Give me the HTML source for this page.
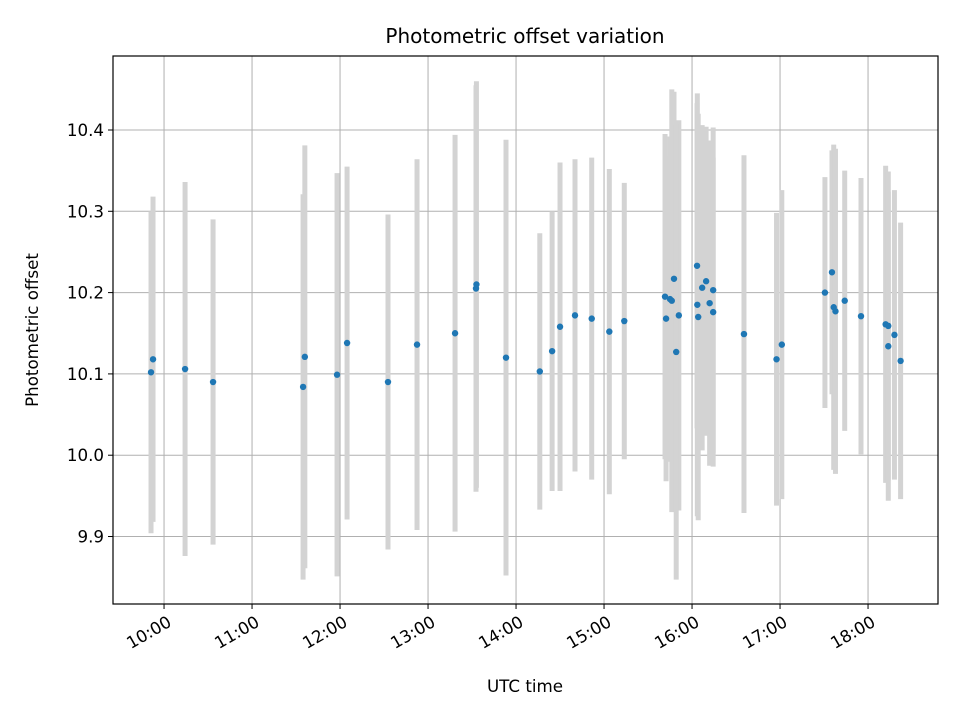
<!DOCTYPE html>
<html><head><meta charset="utf-8"><style>
body{margin:0;background:#fff;}
svg text{font-family:"DejaVu Sans","Liberation Sans",sans-serif;fill:#000;}
</style></head><body>
<svg id="chart" width="960" height="720" xmlns="http://www.w3.org/2000/svg">
<rect width="960" height="720" fill="#fff"/>
<text x="525" y="43" font-size="20" text-anchor="middle">Photometric offset variation</text>
<g id="grid"></g><g id="bars"></g><g id="pts"></g>
<rect x="113" y="56" width="825" height="548" fill="none" stroke="#000" stroke-width="1.2"/>
<g id="axes"></g>
<text x="525" y="692" font-size="16.7" text-anchor="middle">UTC time</text>
<text transform="translate(38,330) rotate(-90)" font-size="16.7" text-anchor="middle">Photometric offset</text>
</svg>
<script>
const times=[9.852,9.875,10.239,10.557,11.58,11.60,11.966,12.08,12.545,12.875,13.307,13.545,13.55,13.886,14.27,14.41,14.5,14.67,14.86,15.06,15.23,
15.693,15.705,15.75,15.77,15.795,15.85,15.82,16.057,16.06,16.07,16.115,16.16,16.2,16.24,16.24,16.59,16.96,17.02,
17.51,17.59,17.61,17.63,17.735,17.92,18.2,18.23,18.23,18.3,18.37];
const values=[10.102,10.118,10.106,10.09,10.084,10.121,10.099,10.138,10.09,10.136,10.15,10.205,10.21,10.12,10.103,10.128,10.158,10.172,10.168,10.152,10.165,
10.195,10.168,10.192,10.19,10.217,10.172,10.127,10.233,10.185,10.17,10.206,10.214,10.187,10.203,10.176,10.149,10.118,10.136,
10.2,10.225,10.182,10.177,10.19,10.171,10.161,10.159,10.134,10.148,10.116];
const errors=[0.198,0.2,0.23,0.2,0.237,0.26,0.248,0.217,0.206,0.228,0.244,0.25,0.25,0.268,0.17,0.172,0.202,0.192,0.198,0.2,0.17,
0.2,0.2,0.2,0.26,0.23,0.24,0.28,0.2,0.26,0.25,0.2,0.19,0.2,0.2,0.19,0.22,0.18,0.19,
0.142,0.15,0.2,0.2,0.16,0.17,0.195,0.19,0.19,0.178,0.17];
const xTicks=[10,11,12,13,14,15,16,17,18];
const xTickLabels=["10:00","11:00","12:00","13:00","14:00","15:00","16:00","17:00","18:00"];
const yTicks=[9.9,10.0,10.1,10.2,10.3,10.4];
const yTickLabels=["9.9","10.0","10.1","10.2","10.3","10.4"];
const NS="http://www.w3.org/2000/svg";
const X0=113,X1=938,Y0=604,Y1=56,TMIN=9.42,TMAX=18.795,VMIN=9.817,VMAX=10.491;
function sx(t){return X0+(t-TMIN)/(TMAX-TMIN)*(X1-X0);}
function sy(v){return Y0-(v-VMIN)/(VMAX-VMIN)*(Y0-Y1);}
function mk(tag,attrs,parent){const e=document.createElementNS(NS,tag);for(const k in attrs)e.setAttribute(k,attrs[k]);document.getElementById(parent).appendChild(e);return e;}
xTicks.forEach((t,i)=>{const x=sx(t);
 const g=mk('line',{x1:x,x2:x,y1:Y1,y2:Y0,stroke:'#b0b0b0','stroke-width':1},'grid');
 
 
 const tk=mk('line',{x1:x,x2:x,y1:Y0,y2:Y0+5,stroke:'#000'},'axes');
 
 
 const tx=mk('text',{'font-size':16.7,'text-anchor':'end',transform:`translate(${x+2},${Y0+10}) rotate(-30)`,y:13},'axes');
 tx.textContent=xTickLabels[i];
 
 });
yTicks.forEach((v,i)=>{const y=sy(v);
 const g=mk('line',{x1:X0,x2:X1,y1:y,y2:y,stroke:'#b0b0b0','stroke-width':1},'grid');
 
 
 const tk=mk('line',{x1:X0-5,x2:X0,y1:y,y2:y,stroke:'#000'},'axes');
 
 
 const tx=mk('text',{x:X0-9,y:y+6,'font-size':16.7,'text-anchor':'end'},'axes');
 tx.textContent=yTickLabels[i];
 
 });
times.forEach((t,i)=>{const x=sx(t);
 const b=mk('line',{x1:x,x2:x,y1:sy(values[i]+errors[i]),y2:sy(values[i]-errors[i]),stroke:'#d3d3d3','stroke-width':5},'bars');
 
 
 const p=mk('circle',{cx:x,cy:sy(values[i]),r:3.2,fill:'#1f77b4'},'pts');
 
 });
</script>
</body></html>
